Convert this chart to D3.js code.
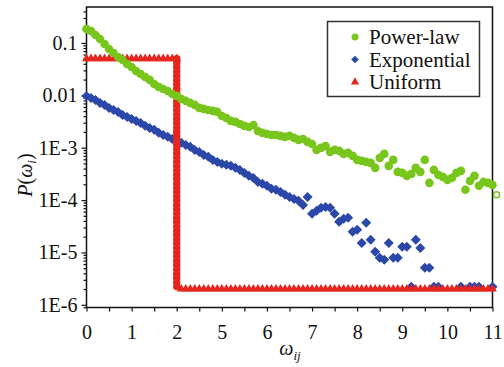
<!DOCTYPE html>
<html><head><meta charset="utf-8">
<script src="https://cdn.jsdelivr.net/npm/d3@7"></script>
<style>
html,body{margin:0;padding:0;background:#fff;}
svg{display:block;}
</style></head>
<body><svg id="c" width="504" height="367" font-family="Liberation Serif"></svg>
<script>
const FONT = "Liberation Serif";
// x grid in axis-index units (tick positions 0..9 carry the labels below)
const xIdx = d3.range(91).map(k => k / 10);
const xTickPos = [0,1,2,3,4,5,6,7,8,9];
const xTickLabels = ["0","1","2","5","6","7","8","9","10","11"];
const yTickValues = [0.1,0.01,1e-3,1e-4,1e-5,1e-6];
const yTickLabels = ["0.1","0.01","1E-3","1E-4","1E-5","1E-6"];
const seriesNames = ["Power-law","Exponential","Uniform"];

const powerLaw = [0.185,0.169,0.142,0.119,0.0957,0.0768,0.0644,0.054,0.0474,0.0397,
0.0348,0.0292,0.0256,0.0224,0.0197,0.0165,0.0145,0.0132,0.0121,0.0106,
0.00975,0.00854,0.00782,0.00716,0.00656,0.00575,0.0055,0.00526,0.00504,0.00482,
0.00404,0.0037,0.00325,0.00311,0.00284,0.00261,0.00249,0.00272,0.00209,0.00192,
0.00183,0.00175,0.00175,0.00168,0.00161,0.00168,0.00154,0.00141,0.00147,0.00129,
0.00118,0.000908,0.000991,0.00108,0.000832,0.000908,0.000869,0.000762,0.000796,0.000698,
0.000585,0.00056,0.000536,0.000513,0.000412,0.000638,0.000762,0.00045,0.000585,0.000345,
0.00033,0.00029,0.000316,0.000412,0.000345,0.000585,0.000213,0.000377,0.000303,0.000277,
0.000243,0.000265,0.00033,0.000361,0.000157,0.000232,0.00029,0.000187,0.000222,0.000213,0.000195];
const powerLawTail = {x: 9.09, v: 0.000126};

const exponential = [0.00974,0.00891,0.00817,0.00716,0.00656,0.00575,0.00526,0.00482,0.00422,0.00387,
0.00355,0.00325,0.00297,0.00261,0.00239,0.00219,0.00192,0.00175,0.00161,0.00147,
0.00135,0.00124,0.00113,0.00104,0.000908,0.000832,0.000729,0.000668,0.000585,0.000536,
0.000491,0.00047,0.00045,0.000412,0.000377,0.00033,0.00029,0.000265,0.000222,0.000204,
0.000187,0.000164,0.000157,0.000143,0.000126,0.000115,0.000105,0.0000966,0.0000809,0.000115,
0.0000545,0.0000622,0.000071,0.0000741,0.000071,0.0000545,0.0000384,0.0000438,0.0000457,0.0000247,
0.000027,0.0000152,0.0000367,0.0000174,0.0000103,0.00000788,0.00000722,0.0000152,0.00000788,0.00000788,
0.0000128,0.0000128,0.0000022,0.0000174,0.0000122,0.00000508,0.00000508,0.0000022,0.0000022,null,
null,null,null,0.0000022,null,0.0000022,0.0000022,0.0000022,null,null,0.0000022];

const uniformHigh = 0.05, uniformLow = 2e-6, uniformStepAt = 2;
const uniform = Array(21).fill(uniformHigh).concat(Array(70).fill(uniformLow));

const colors = {green:"#78c61c", blue:"#2b47a8", red:"#e6261e"};

const svg = d3.select("#c");
const L = 86.5, R = 492.5, T = 7, B = 307.5;
const x = d3.scaleLinear().domain([0, 9]).range([L, R]);
const y = d3.scaleLog().domain([8.88e-7, 0.486]).range([B, T]);

// frame
svg.append("rect").attr("x", L).attr("y", T).attr("width", R - L).attr("height", B - T)
  .attr("fill", "none").attr("stroke", "#111").attr("stroke-width", 1.5);

// minor y ticks
const minorY = [];
for (let e = -7; e <= -1; e++) for (let m = 2; m <= 9; m++) {
  const v = m * Math.pow(10, e);
  if (v >= y.domain()[0] && v <= y.domain()[1]) minorY.push(v);
}
const gy = svg.append("g").attr("transform", `translate(${L},0)`);
gy.call(d3.axisLeft(y).tickValues(minorY).tickSize(3).tickFormat(""));
gy.select(".domain").remove();
const gy2 = svg.append("g").attr("transform", `translate(${L},0)`);
gy2.call(d3.axisLeft(y).tickValues(yTickValues).tickSize(5).tickPadding(4)
  .tickFormat((d, i) => yTickLabels[i]));
gy2.select(".domain").remove();
gy2.attr("font-family", FONT).attr("font-size", 20);
svg.selectAll(".tick line").attr("stroke", "#111").attr("stroke-width", 1.2);
gy2.selectAll("text").attr("font-family", FONT).attr("font-size", 20).attr("fill", "#111");

// x ticks
const gx = svg.append("g").attr("transform", `translate(0,${B})`);
gx.call(d3.axisBottom(x).tickValues(d3.range(0, 9.01, 0.5)).tickSize(4).tickFormat(""));
gx.select(".domain").remove();
gx.selectAll("line").attr("stroke", "#111").attr("stroke-width", 1.2);
const gx2 = svg.append("g").attr("transform", `translate(0,${B})`);
gx2.call(d3.axisBottom(x).tickValues(xTickPos).tickSize(0).tickPadding(17)
  .tickFormat((d, i) => xTickLabels[i]));
gx2.select(".domain").remove();
gx2.attr("font-family", FONT).attr("font-size", 20);
gx2.selectAll("text").attr("font-family", FONT).attr("font-size", 20).attr("fill", "#111");

// series: exponential (diamonds)
const expPts = xIdx.map((xv, k) => ({x: xv, v: exponential[k]})).filter(d => d.v != null);
svg.append("g").selectAll("path").data(expPts).join("path")
  .attr("d", d3.symbol(d3.symbolSquare, 50)())
  .attr("transform", d => `translate(${x(d.x)},${y(d.v)}) rotate(45)`)
  .attr("fill", colors.blue);

// uniform: vertical drop + triangles
svg.append("line")
  .attr("x1", x(uniformStepAt)).attr("x2", x(uniformStepAt))
  .attr("y1", y(uniformHigh)).attr("y2", y(uniformLow))
  .attr("stroke", colors.red).attr("stroke-width", 7.5)
  .attr("stroke-linecap", "round").attr("stroke-dasharray", "0 4.3");
const uniPts = xIdx.map((xv, k) => ({x: xv, v: uniform[k]}));
svg.append("g").selectAll("path").data(uniPts).join("path")
  .attr("d", d3.symbol(d3.symbolTriangle, 34)())
  .attr("transform", d => `translate(${x(d.x)},${y(d.v)})`)
  .attr("fill", colors.red);

// power-law circles
const plPts = xIdx.map((xv, k) => ({x: xv, v: powerLaw[k]}));
svg.append("g").selectAll("circle").data(plPts).join("circle")
  .attr("cx", d => x(d.x)).attr("cy", d => y(d.v)).attr("r", 4.3)
  .attr("fill", colors.green);
svg.append("circle").attr("cx", x(powerLawTail.x)).attr("cy", y(powerLawTail.v)).attr("r", 3)
  .attr("fill", "#fff").attr("stroke", colors.green).attr("stroke-width", 1.5);

// legend
const lg = svg.append("g");
lg.append("rect").attr("x", 327.5).attr("y", 21.5).attr("width", 152).attr("height", 75)
  .attr("fill", "#fff").attr("stroke", "#333").attr("stroke-width", 1.5);
const legY = [37, 59.5, 82];
lg.append("circle").attr("cx", 355).attr("cy", legY[0]).attr("r", 3.5).attr("fill", colors.green);
lg.append("path").attr("d", d3.symbol(d3.symbolSquare, 30)())
  .attr("transform", `translate(355,${legY[1]}) rotate(45)`).attr("fill", colors.blue);
lg.append("path").attr("d", d3.symbol(d3.symbolTriangle, 30)())
  .attr("transform", `translate(355,${legY[2]})`).attr("fill", colors.red);
lg.selectAll("text.l").data(seriesNames).join("text").attr("class", "l")
  .attr("x", 369).attr("y", (d, i) => legY[i] + 7)
  .attr("font-family", FONT).attr("font-size", 21).attr("fill", "#111").text(d => d);

// axis titles
const yl = svg.append("text").attr("transform", "translate(32,175) rotate(-90)")
  .attr("text-anchor", "middle").attr("font-family", FONT).attr("font-size", 20).attr("fill", "#111");
yl.append("tspan").attr("font-style", "italic").text("P");
yl.append("tspan").text("(");
yl.append("tspan").attr("font-style", "italic").text("ω");
yl.append("tspan").attr("font-style", "italic").attr("font-size", 13).attr("dy", 4).text("i");
yl.append("tspan").attr("dy", -4).text(")");

const xl = svg.append("text").attr("x", 290).attr("y", 355)
  .attr("text-anchor", "middle").attr("font-family", FONT).attr("font-size", 20).attr("fill", "#111");
xl.append("tspan").attr("font-style", "italic").text("ω");
xl.append("tspan").attr("font-style", "italic").attr("font-size", 13).attr("dy", 5).text("ij");
</script>
</body></html>
